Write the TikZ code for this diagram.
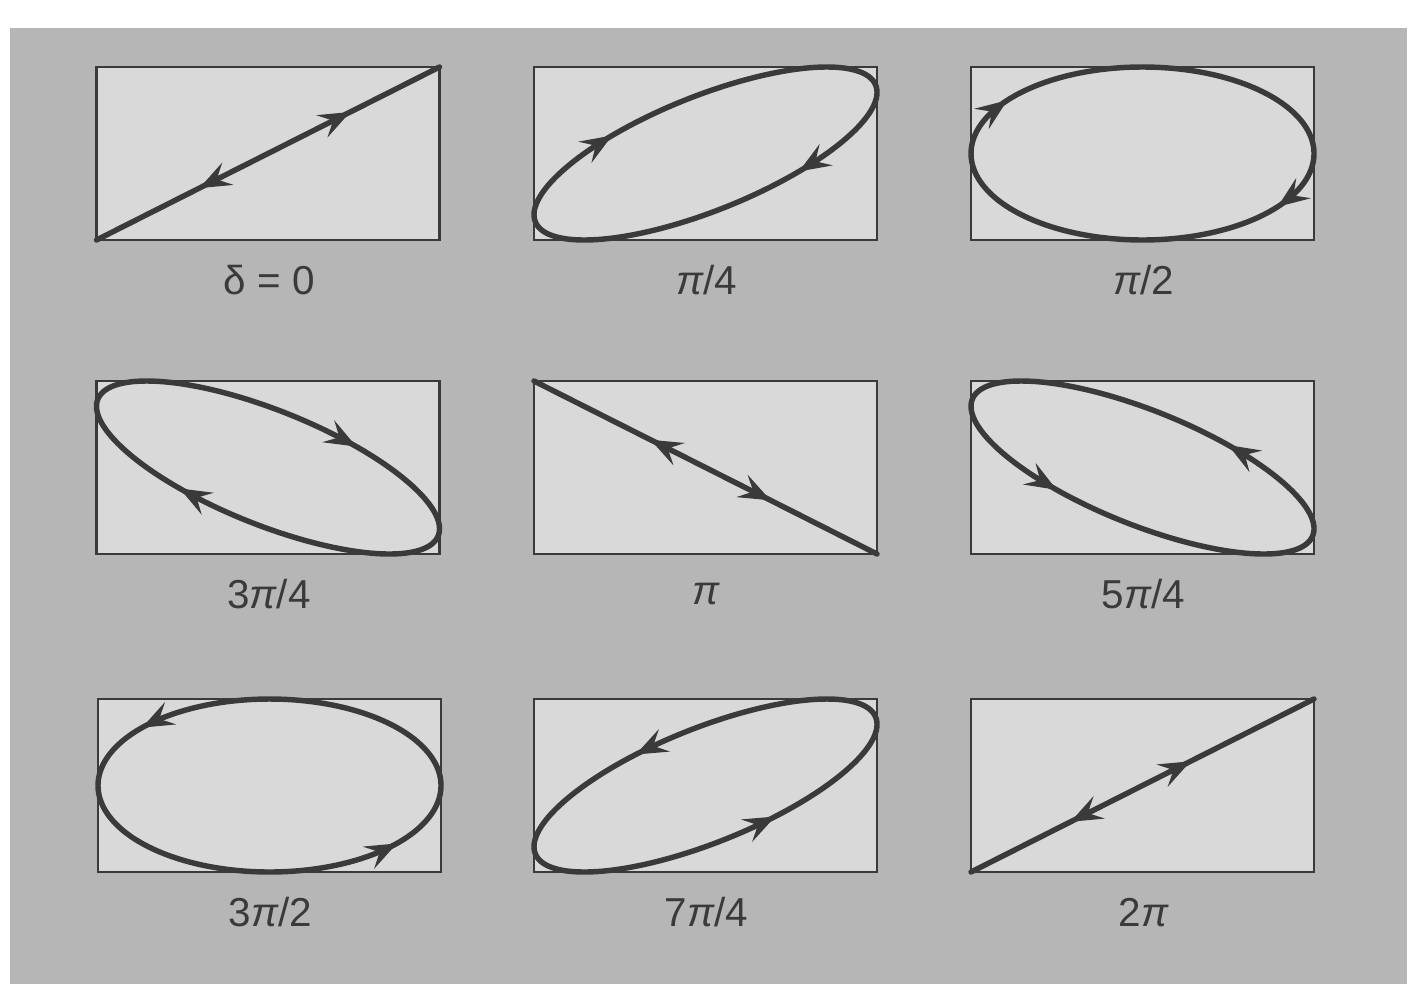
\documentclass[tikz,border=0pt]{standalone}
\usepackage{fontspec}
\setmainfont{Liberation Sans}
\usetikzlibrary{arrows.meta}
\definecolor{bggray}{RGB}{182,182,182}
\definecolor{boxgray}{RGB}{217,217,217}
\definecolor{ink}{RGB}{58,58,58}
\tikzset{
  boxframe/.style={draw=ink, fill=boxgray, line width=1.5pt},
  curve/.style={draw=ink, line width=3.1pt, line join=round},
  tipped/.style={draw=ink, line width=3.1pt, -{Stealth[length=18pt,width=14pt,inset=7pt]}},
  lbl/.style={text=ink, font=\fontsize{23pt}{27pt}\selectfont, inner sep=0pt}
}
% #1 cx, #2 cy, #3 delta, #4 t1, #5 t2, #6 label, #7 name
\newcommand\lissa[7]{%
  \draw[boxframe] ({#1-171.5},{#2-86.5}) rectangle ({#1+171.5},{#2+86.5});
  \draw[curve] plot[domain=0:360,samples=241,smooth] ({#1+171.5*cos(\x)},{#2-86.5*cos(\x+#3)}) -- cycle;
  \draw[tipped] ({#1+171.5*cos(#4-6)},{#2-86.5*cos(#4-6+#3)}) -- ({#1+171.5*cos(#4)},{#2-86.5*cos(#4+#3)});
  \draw[tipped] ({#1+171.5*cos(#5-6)},{#2-86.5*cos(#5-6+#3)}) -- ({#1+171.5*cos(#5)},{#2-86.5*cos(#5+#3)});
  \node[lbl] (#7) at ({#1+1},{#2+127}) {#6};
}
\begin{document}
\begin{tikzpicture}[x=0.02cm,y=-0.02cm]
\useasboundingbox (0,0) rectangle (1415,984);
\fill[white] (0,0) rectangle (1415,984);
\fill[bggray] (10,28) rectangle (1407,984);
\lissa{268}{153.5}{0}{113.6}{298.7}{δ = 0}{l0}
\lissa{705.5}{153.5}{45}{57}{237}{{\itshape π}/4}{l1}
\lissa{1142.5}{153.5}{90}{38}{218}{{\itshape π}/2}{l2}
\lissa{268}{467.5}{135}{121}{301}{3{\itshape π}/4}{l3}
\lissa{705.5}{467.5}{180}{108.7}{292.3}{{\itshape π}}{l4}
\lissa{1142.5}{467.5}{225}{60}{240}{5{\itshape π}/4}{l5}
\lissa{269.5}{785.5}{270}{138}{318}{3{\itshape π}/2}{l6}
\lissa{705.5}{785.5}{315}{114}{294}{7{\itshape π}/4}{l7}
\lissa{1142.5}{785.5}{360}{114.8}{286.3}{2{\itshape π}}{l8}
\end{tikzpicture}
\end{document}
